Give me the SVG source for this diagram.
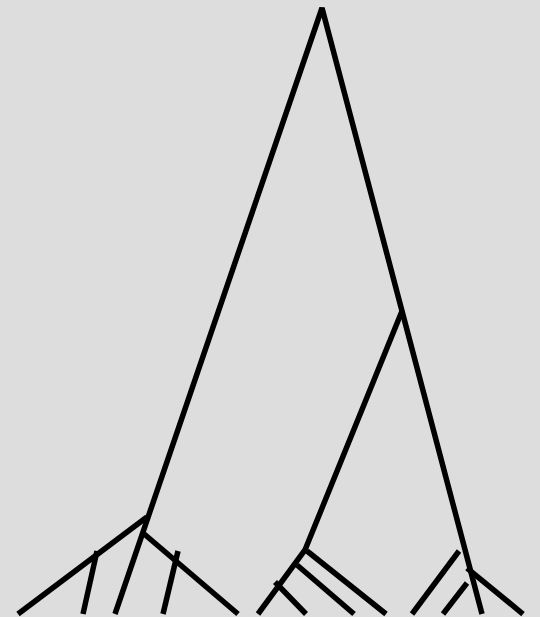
<svg xmlns="http://www.w3.org/2000/svg" width="540" height="617" viewBox="0 0 540 617">
<style>
.e{fill:none;stroke:#000;stroke-width:5.5;stroke-linecap:butt;stroke-linejoin:miter}
.b{stroke-linejoin:bevel}
</style>
<rect x="0" y="0" width="540" height="617" fill="#dddddd"/>
<g id="connectors">
<path class="e b" d="M115,614 L322,8 L402,311 L482,614"/>
<path class="e" d="M18,614 L147,517"/>
<path class="e" d="M143,533 L238,614"/>
<path class="e" d="M97,551 L83,614"/>
<path class="e" d="M178,551 L163,614"/>
<path class="e" d="M402,311 L305,550 L258,614"/>
<path class="e" d="M307,551 L386,614"/>
<path class="e" d="M297,565 L354,614"/>
<path class="e" d="M275,582 L306,614"/>
<path class="e" d="M467,568 L523,614"/>
<path class="e" d="M459,551 L412,614"/>
<path class="e" d="M467,583 L443,614"/>
</g>
</svg>
